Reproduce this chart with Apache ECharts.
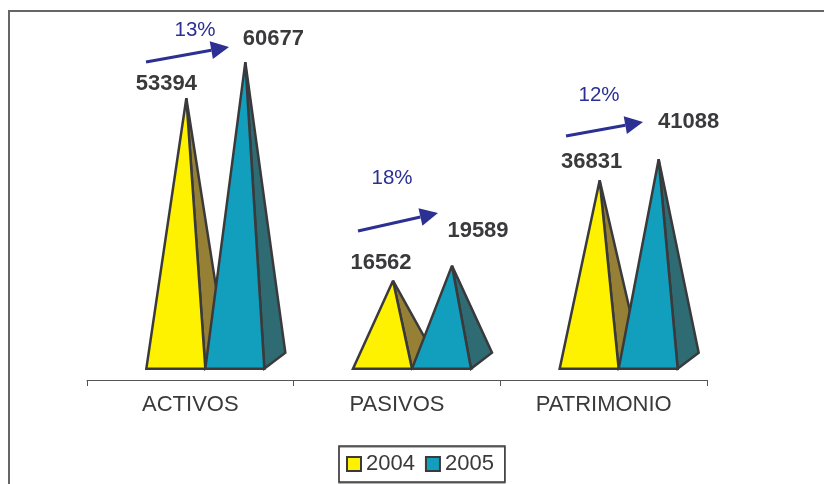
<!DOCTYPE html>
<html>
<head>
<meta charset="utf-8">
<style>
html, body { margin: 0; padding: 0; background: #fff; }
#chart { width: 824px; height: 484px; }
</style>
<script src="https://cdn.jsdelivr.net/npm/echarts@6/dist/echarts.min.js"></script>
</head>
<body>
<div id="chart"></div>
<script>
// data
var categories = ['ACTIVOS', 'PASIVOS', 'PATRIMONIO'];
var values2004 = [53394, 16562, 36831];
var values2005 = [60677, 19589, 41088];
var growth = ['13%', '18%', '12%'];

var textColor = '#3a3a3c';
var arrowColor = '#2b3092';
var fontName = '"Liberation Sans", Arial, sans-serif';

// value labels were placed by hand in the original, offsets from the apex
var labelOffsets2004 = [[-20, -14], [-12, -18], [-8, -18]];
var labelOffsets2005 = [[28, -23], [26, -35], [30, -37]];

// tail x, tail y, tip x, tip y, text x, text y
var arrowSpots = [
    [146, 62, 229, 47, 195, 30],
    [358, 231, 438, 213, 392, 178],
    [566, 136, 643, 122, 599, 95]
];

var pyramidWidth = 59;
var clusterShift = 15;
var floorDrop = 6;
var depthX = 21;
var depthY = 16;
var apexShift = 10.5;

function pairs(values) {
    return values.map(function (v, i) { return [i, v]; });
}

function pyramidSeries(name, values, front, side, startShift, offsets) {
    return {
        name: name,
        type: 'custom',
        itemStyle: {color: front},
        encode: {x: 0, y: 1},
        data: pairs(values),
        renderItem: function (params, api) {
            var apex = api.coord([api.value(0), api.value(1)]);
            var zero = api.coord([api.value(0), 0]);
            var left = zero[0] + clusterShift + startShift;
            var right = left + pyramidWidth;
            var base = zero[1] + floorDrop;
            var top = [left + pyramidWidth / 2 + apexShift, apex[1]];
            var off = offsets[params.dataIndex];
            return {
                type: 'group',
                children: [
                    {
                        type: 'polygon',
                        shape: {points: [top, [right, base], [right + depthX, base - depthY]]},
                        style: {fill: side, stroke: textColor, lineWidth: 2.5, lineJoin: 'miter', miterLimit: 3}
                    },
                    {
                        type: 'polygon',
                        shape: {points: [top, [left, base], [right, base]]},
                        style: {fill: front, stroke: textColor, lineWidth: 2.5, lineJoin: 'miter', miterLimit: 3}
                    },
                    {
                        type: 'text',
                        z2: 5,
                        style: {
                            text: String(api.value(1)),
                            x: top[0] + off[0],
                            y: top[1] + off[1],
                            align: 'center',
                            verticalAlign: 'middle',
                            fill: textColor,
                            font: 'bold 22px ' + fontName
                        }
                    }
                ]
            };
        }
    };
}

function arrowGraphics() {
    var out = [];
    arrowSpots.forEach(function (s, i) {
        var dx = s[2] - s[0], dy = s[3] - s[1];
        var len = Math.sqrt(dx * dx + dy * dy);
        var ux = dx / len, uy = dy / len;
        var bx = s[2] - ux * 18, by = s[3] - uy * 18;
        out.push({
            type: 'line',
            shape: {x1: s[0], y1: s[1], x2: bx, y2: by},
            style: {stroke: arrowColor, lineWidth: 3}
        });
        out.push({
            type: 'polygon',
            shape: {points: [[s[2], s[3]], [bx - uy * 9, by + ux * 9], [bx + uy * 9, by - ux * 9]]},
            style: {fill: arrowColor}
        });
        out.push({
            type: 'text',
            style: {
                text: growth[i],
                x: s[4],
                y: s[5],
                align: 'center',
                verticalAlign: 'middle',
                fill: arrowColor,
                font: '20.5px ' + fontName
            }
        });
    });
    // the outer frame runs off the right and bottom of the picture
    out.push({
        type: 'rect',
        shape: {x: 9, y: 11, width: 1000, height: 700},
        style: {fill: 'none', stroke: '#666', lineWidth: 2}
    });
    return out;
}

var myChart = echarts.init(document.getElementById('chart'));
var option = {
    animation: false,
    backgroundColor: '#fff',
    textStyle: {fontFamily: fontName},
    grid: {left: 87, right: 117, top: 20, bottom: 104},
    xAxis: {
        type: 'category',
        data: categories,
        axisLine: {onZero: false, lineStyle: {color: '#555', width: 1}},
        axisTick: {show: true, length: 6, lineStyle: {color: '#555'}},
        axisLabel: {color: textColor, fontSize: 22, margin: 14}
    },
    yAxis: {
        type: 'value',
        min: -3500,
        max: 69200,
        show: false
    },
    legend: {
        left: 339,
        top: 446,
        data: ['2004', '2005'],
        icon: 'rect',
        itemWidth: 14,
        itemHeight: 14,
        itemGap: 10,
        padding: [7, 11, 7, 7],
        borderColor: textColor,
        borderWidth: 1.5,
        backgroundColor: '#fff',
        shadowColor: '#999',
        shadowOffsetY: 1,
        shadowBlur: 0,
        itemStyle: {borderColor: textColor, borderWidth: 2},
        textStyle: {color: textColor, fontSize: 22}
    },
    series: [
        pyramidSeries('2004', values2004, '#fff200', '#958035', -pyramidWidth, labelOffsets2004),
        pyramidSeries('2005', values2005, '#129fbd', '#2e6b73', 0, labelOffsets2005)
    ],
    graphic: arrowGraphics()
};
myChart.setOption(option);
</script>
</body>
</html>
